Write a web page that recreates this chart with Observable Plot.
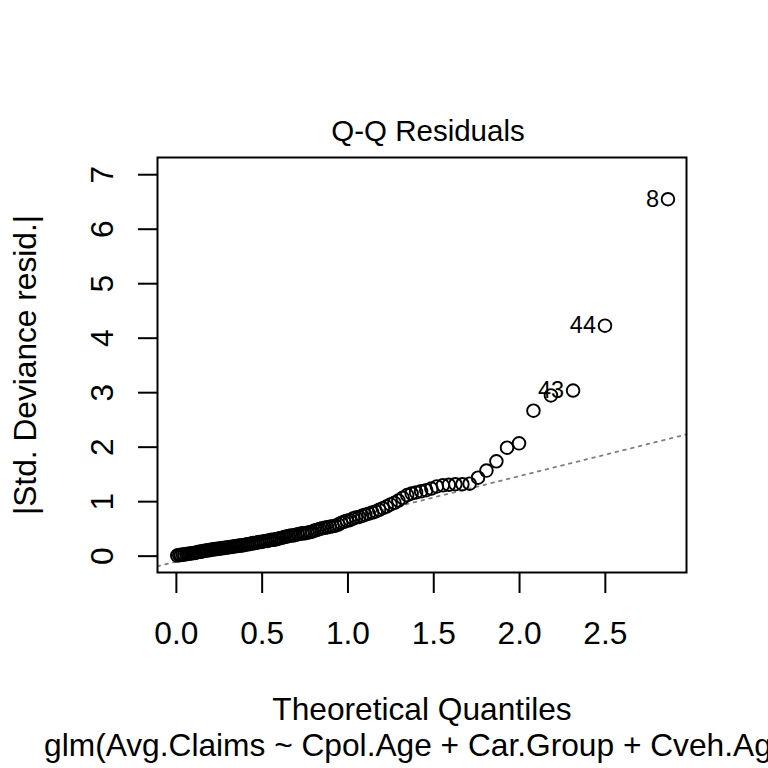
<!DOCTYPE html>
<html><head><meta charset="utf-8">
<script src="https://cdn.jsdelivr.net/npm/d3@7"></script>
<script src="https://cdn.jsdelivr.net/npm/@observablehq/plot@0.6"></script>
<style>html,body{margin:0;padding:0;background:#fff;overflow:hidden;width:768px;height:768px}</style>
</head><body><div id="chart"></div>
<script>
// Theoretical half-normal quantiles (x) and |Std. deviance residuals| (y)
const quantiles = [
  0.005, 0.016, 0.026, 0.037, 0.047, 0.058, 0.068, 0.078, 0.089, 0.099,
  0.110, 0.121, 0.131, 0.142, 0.152, 0.163, 0.174, 0.184, 0.195,
  0.205, 0.216, 0.227, 0.237, 0.248, 0.259, 0.270, 0.281, 0.291,
  0.302, 0.313, 0.324, 0.336, 0.347, 0.358, 0.369, 0.380, 0.391,
  0.402, 0.414, 0.425, 0.437, 0.448, 0.460, 0.472, 0.483, 0.495,
  0.507, 0.519, 0.531, 0.543, 0.555, 0.568, 0.580, 0.592,
  0.604, 0.617, 0.630, 0.643, 0.656, 0.669, 0.682, 0.694,
  0.707, 0.722, 0.736, 0.749, 0.763, 0.777, 0.791,
  0.805, 0.820, 0.835, 0.850, 0.865, 0.880, 0.895,
  0.911, 0.927, 0.944, 0.960, 0.977, 0.993,
  1.011, 1.029, 1.047, 1.065, 1.083,
  1.101, 1.121, 1.142, 1.162, 1.182,
  1.203, 1.225, 1.248, 1.271, 1.294,
  1.319, 1.345, 1.371, 1.397,
  1.426, 1.456, 1.486,
  1.518, 1.553, 1.588,
  1.626, 1.667,
  1.709, 1.758,
  1.807, 1.865,
  1.927, 1.997,
  2.081, 2.183, 2.312, 2.498, 2.865
];
const residuals = [
  0.01, 0.02, 0.02, 0.03, 0.03, 0.04, 0.04, 0.05, 0.05, 0.06, 0.06, 0.07, 0.08, 0.08, 0.09, 0.10, 0.10, 0.11, 0.11,
  0.12, 0.12, 0.13, 0.13, 0.14, 0.14, 0.15, 0.15, 0.16, 0.16, 0.17, 0.17, 0.18, 0.18, 0.19, 0.19, 0.20, 0.20,
  0.21, 0.22, 0.22, 0.23, 0.24, 0.24, 0.25, 0.26, 0.26, 0.27, 0.28, 0.28, 0.29, 0.30, 0.30, 0.31, 0.32,
  0.33, 0.34, 0.35, 0.36, 0.37, 0.38, 0.38, 0.39, 0.40, 0.41, 0.42, 0.42, 0.43, 0.44, 0.45,
  0.47, 0.48, 0.50, 0.51, 0.52, 0.53, 0.54, 0.55, 0.56, 0.58, 0.61, 0.63, 0.65,
  0.66, 0.69, 0.71, 0.72, 0.74, 0.76, 0.78, 0.80, 0.82, 0.85, 0.88, 0.91,
  0.95, 0.98, 1.02, 1.07, 1.12, 1.15, 1.17, 1.19, 1.21, 1.24,
  1.28, 1.30, 1.31, 1.32, 1.32, 1.33,
  1.44, 1.57, 1.74, 1.99, 2.07, 2.67, 2.95, 3.04, 4.23, 6.55
];
const pointLabels = ["8", "44", "43"];
const labelIndex = [119, 118, 117];
const xTicks = [0, 0.5, 1, 1.5, 2, 2.5];
const yTicks = [0, 1, 2, 3, 4, 5, 6, 7];
const refIntercept = -0.10;
const refSlope = 0.785;
const titleText = "Q-Q Residuals";
const xLabel = "Theoretical Quantiles";
const yLabel = "|Std. Deviance resid.|";
const subCaption = "glm(Avg.Claims ~ Cpol.Age + Car.Group + Cveh.Age)";
const xDomain = [-0.11, 2.973];
const yDomain = [-0.30, 7.316];

const points = quantiles.map((x, i) => ({x, y: residuals[i]}));
const labelled = labelIndex.map((k, j) => ({x: quantiles[k], y: residuals[k], label: pointLabels[j]}));
const refLine = xDomain.map(x => ({x, y: refIntercept + refSlope * x}));
const FS = 31.7;

const plot = Plot.plot({
  width: 768, height: 768,
  marginLeft: 157, marginRight: 82, marginTop: 157, marginBottom: 196,
  style: {fontFamily: "'Liberation Sans', Arial, sans-serif", background: "white", color: "black"},
  x: {domain: xDomain},
  y: {domain: yDomain},
  marks: [
    Plot.line(refLine, {x: "x", y: "y", stroke: "#7f7f7f", strokeWidth: 1.8, strokeDasharray: "2.7,5.3", clip: true}),
    Plot.dot(points, {x: "x", y: "y", r: 6.3, stroke: "black", strokeWidth: 1.9, fill: "none"}),
    Plot.text(labelled, {x: "x", y: "y", text: "label", textAnchor: "end", dx: -9, fontSize: 23.5, fill: "black"}),
    Plot.frame({stroke: "black", strokeWidth: 2}),
    Plot.axisX({ticks: xTicks, tickSize: 21, tickPadding: 28, tickFormat: d3.format(".1f"), fontSize: FS, strokeWidth: 2, label: null}),
    Plot.axisY({ticks: yTicks, tickSize: 19, tickFormat: () => "", strokeWidth: 2, label: null}),
    Plot.text(yTicks, {y: d => d, text: d => String(d), frameAnchor: "left", rotate: -90, dx: -45, lineAnchor: "bottom", textAnchor: "middle", fontSize: FS, fill: "black"}),
    Plot.text([titleText], {text: d => d, frameAnchor: "top", lineAnchor: "bottom", dx: 6, dy: -17, fontSize: 29.5, fill: "black"}),
    Plot.text([xLabel], {text: d => d, frameAnchor: "bottom", lineAnchor: "bottom", dy: 147, fontSize: FS, fill: "black"}),
    Plot.text([subCaption], {text: d => d, frameAnchor: "bottom", lineAnchor: "bottom", dy: 183, fontSize: FS, fill: "black"}),
    Plot.text([yLabel], {text: d => d, frameAnchor: "left", rotate: -90, dx: -122, lineAnchor: "bottom", textAnchor: "middle", fontSize: FS, fill: "black"})
  ]
});
document.getElementById("chart").appendChild(plot);
</script>
</body></html>
